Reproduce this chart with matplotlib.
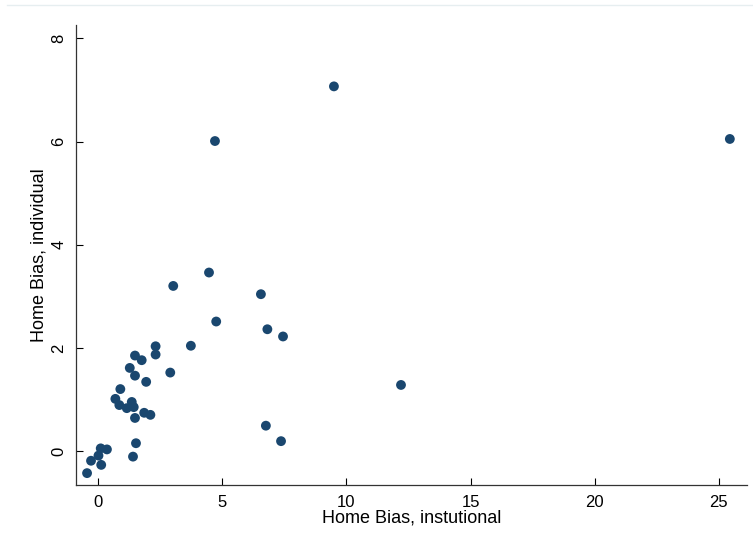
import numpy as np
import matplotlib.pyplot as plt
from matplotlib.lines import Line2D

plt.rcParams['font.family'] = ['Liberation Sans', 'DejaVu Sans']

# home bias values
hb_institutional = [25.44, 9.50, 12.20, 4.71, 4.47, 3.03, 6.56, 4.76, 6.82, 7.45,
                    2.32, 2.32, 3.74, 1.76, 1.49, 1.28, 2.91, 1.49, 1.94, 0.90,
                    0.70, 0.86, 1.36, 1.16, 1.44, 1.49, 1.86, 2.11, 6.76, 7.37,
                    1.53, 1.41, 0.11, 0.36, 0.02, -0.28, 0.13, -0.44]
hb_individual = [6.05, 7.07, 1.28, 6.01, 3.46, 3.20, 3.04, 2.51, 2.36, 2.22,
                 2.03, 1.87, 2.04, 1.76, 1.85, 1.61, 1.52, 1.46, 1.34, 1.20,
                 1.01, 0.89, 0.95, 0.83, 0.85, 0.64, 0.74, 0.70, 0.49, 0.19,
                 0.15, -0.11, 0.05, 0.03, -0.09, -0.19, -0.27, -0.43]

x_ticks = [0, 5, 10, 15, 20, 25]
y_ticks = [0, 2, 4, 6, 8]

fig = plt.figure(figsize=(7.53, 5.52), dpi=100)
ax = fig.add_axes([0.1009, 0.1214, 0.8911, 0.8333])

ax.scatter(hb_institutional, hb_individual, s=50, color='#1a476f', edgecolors='none', zorder=3)

ax.set_xlim(-0.886, 26.13)
ax.set_ylim(-0.66, 8.26)
ax.set_xticks(x_ticks)
ax.set_yticks(y_ticks)
ax.tick_params(direction='in', length=5, width=0.8, labelsize=12, pad=7)
for lab in ax.get_yticklabels():
    lab.set_rotation(90)
    lab.set_va('center')

for side in ['top', 'right']:
    ax.spines[side].set_visible(False)
for side in ['left', 'bottom']:
    ax.spines[side].set_linewidth(0.9)
    ax.spines[side].set_color('#333333')

ax.set_xlabel('Home Bias, instutional', fontsize=13, labelpad=0)
ax.set_ylabel('Home Bias, individual', fontsize=13, labelpad=3)

# faint frame line at the top
fig.add_artist(Line2D([0.009, 1.0], [0.991, 0.991], color='#e6eef0', lw=1))

fig.savefig('out.png', dpi=100)
